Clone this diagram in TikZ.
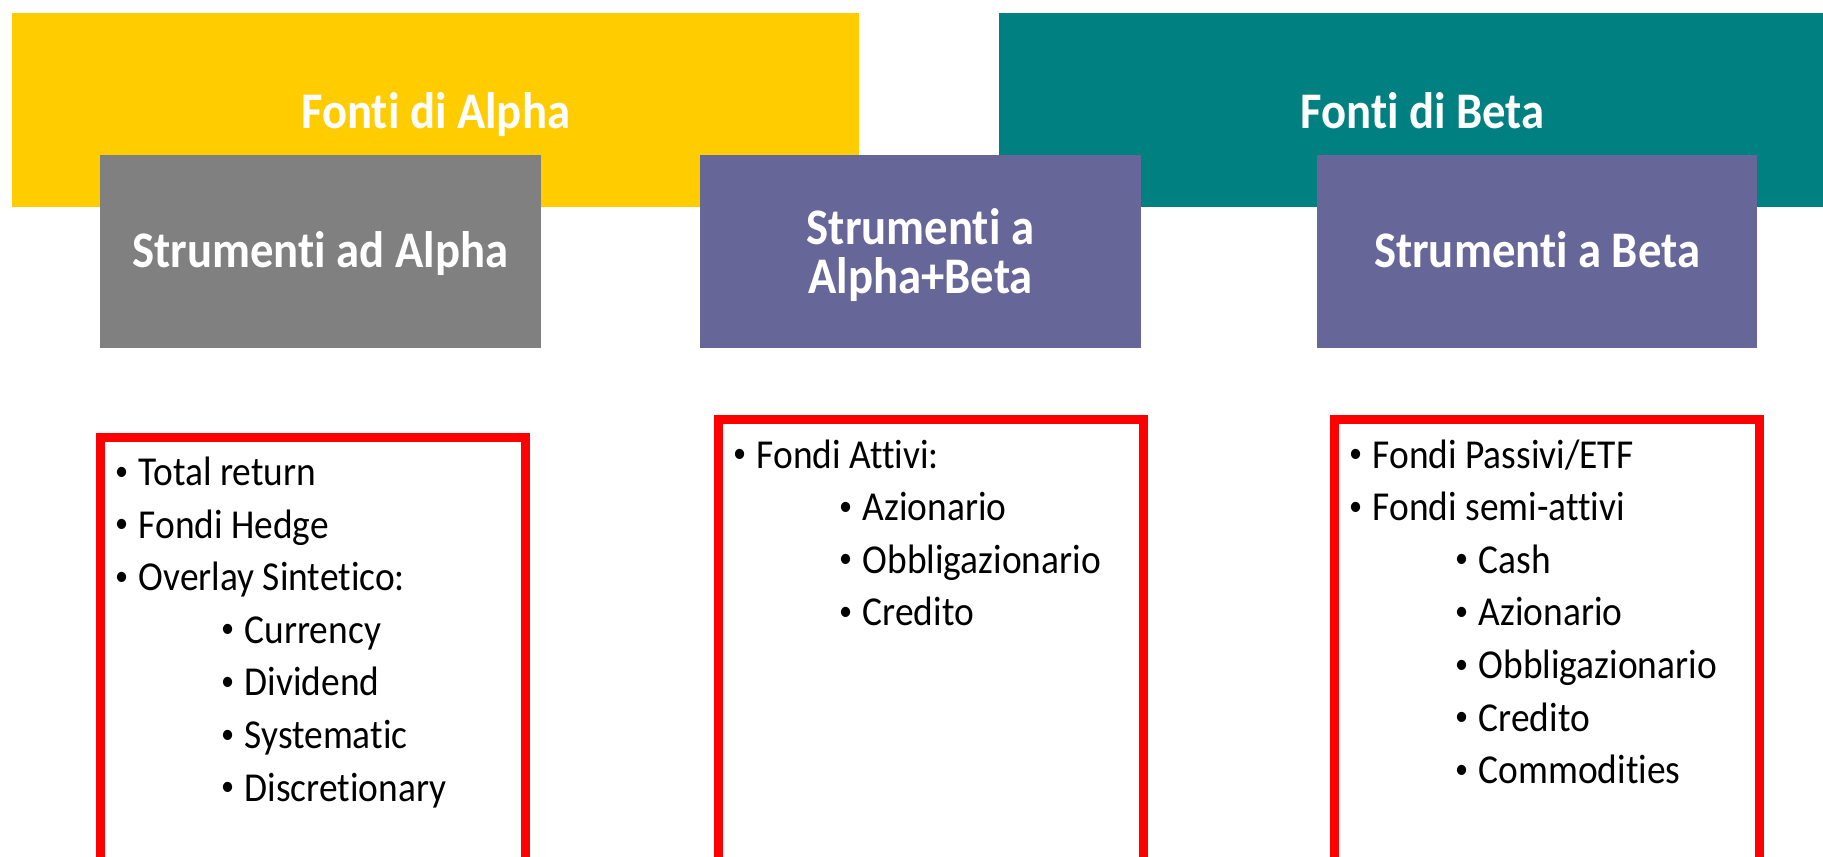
\documentclass[tikz,border=0pt]{standalone}
\usepackage{fontspec}
\setmainfont{Carlito}
\usepackage{graphicx}
\usepackage{xcolor}
\usepackage{tikz}
\usetikzlibrary{positioning}
\definecolor{alphayellow}{HTML}{FFCC00}
\definecolor{betateal}{HTML}{008080}
\definecolor{alphagray}{HTML}{808080}
\definecolor{mixpurple}{HTML}{666699}
\definecolor{boxred}{HTML}{FF0000}
\newfontfamily\hdrfont[FakeStretch=0.91,Ligatures=NoCommon]{Carlito}
\newfontfamily\itemfont[FakeStretch=0.91,Ligatures=NoCommon]{Carlito}
\newcommand{\puntato}[1]{\makebox[0.215cm][l]{\hspace{-0.02cm}\raisebox{0.13em}{\scalebox{0.7}{\textbullet}}}#1}
\tikzstyle{testa} = [rectangle,inner sep=0pt,outer sep=0pt,text=white,font=\hdrfont\bfseries\fontsize{14.6}{13.9}\selectfont]
\tikzstyle{riga} = [text height=9.2pt,text depth=0pt]
\tikzstyle{fonti} = [testa,text height=10.3pt,text depth=0pt,minimum width=8.47cm,minimum height=1.94cm]
\tikzstyle{strum} = [testa,minimum width=4.405cm,minimum height=1.93cm,align=center]
\tikzstyle{lista} = [rectangle,draw=boxred,line width=0.09cm,inner sep=0pt,outer sep=0pt,minimum width=4.25cm,minimum height=5cm,anchor=north west]
\tikzstyle{voce} = [inner sep=0pt,anchor=base west,font=\itemfont\fontsize{11.7}{14}\selectfont]

\begin{document}
\begin{tikzpicture}[line join=miter]
            \useasboundingbox (0,0) rectangle (18.23,-8.57);
            \clip (0,0) rectangle (18.23,-8.57);
            % intestazioni
            \node[fonti,fill=alphayellow] (falpha) at (4.356,-1.10) {Fonti di Alpha};
            \node[fonti,fill=betateal] (fbeta) at (14.224,-1.10) {Fonti di Beta};
            \node[strum,riga,fill=alphagray] (salpha) at (3.205,-2.51) {Strumenti ad Alpha};
            \node[strum,text depth=0pt,fill=mixpurple] (smix) at (9.2055,-2.51) {Strumenti a\\Alpha+Beta};
            \node[strum,riga,fill=mixpurple] (sbeta) at (15.371,-2.51) {Strumenti a Beta};
            % riquadri rossi
            \node[lista] (lalpha) at (1.005,-4.37) {};
            \node[lista] (lmix) at (7.185,-4.195) {};
            \node[lista] (lbeta) at (13.345,-4.195) {};
            % voci
            \foreach \liv/\txt [count=\i] in {0/Total return,0/Fondi Hedge,0/Overlay Sintetico:,1/Currency,1/Dividend,1/Systematic,1/Discretionary}
                \node[voce] (va\i) at ([xshift={0.16cm+\liv*1.06cm},yshift={-0.485cm-(\i-1)*0.526cm}]lalpha.north west) {\puntato{\txt}};
            \foreach \liv/\txt [count=\i] in {0/Fondi Attivi:,1/Azionario,1/Obbligazionario,1/Credito}
                \node[voce] (vm\i) at ([xshift={0.16cm+\liv*1.06cm},yshift={-0.485cm-(\i-1)*0.526cm}]lmix.north west) {\puntato{\txt}};
            \foreach \liv/\txt [count=\i] in {0/{Fondi Passivi/ETF},0/Fondi semi-attivi,1/Cash,1/Azionario,1/Obbligazionario,1/Credito,1/Commodities}
                \node[voce] (vb\i) at ([xshift={0.16cm+\liv*1.06cm},yshift={-0.485cm-(\i-1)*0.526cm}]lbeta.north west) {\puntato{\txt}};
\end{tikzpicture}
\end{document}
